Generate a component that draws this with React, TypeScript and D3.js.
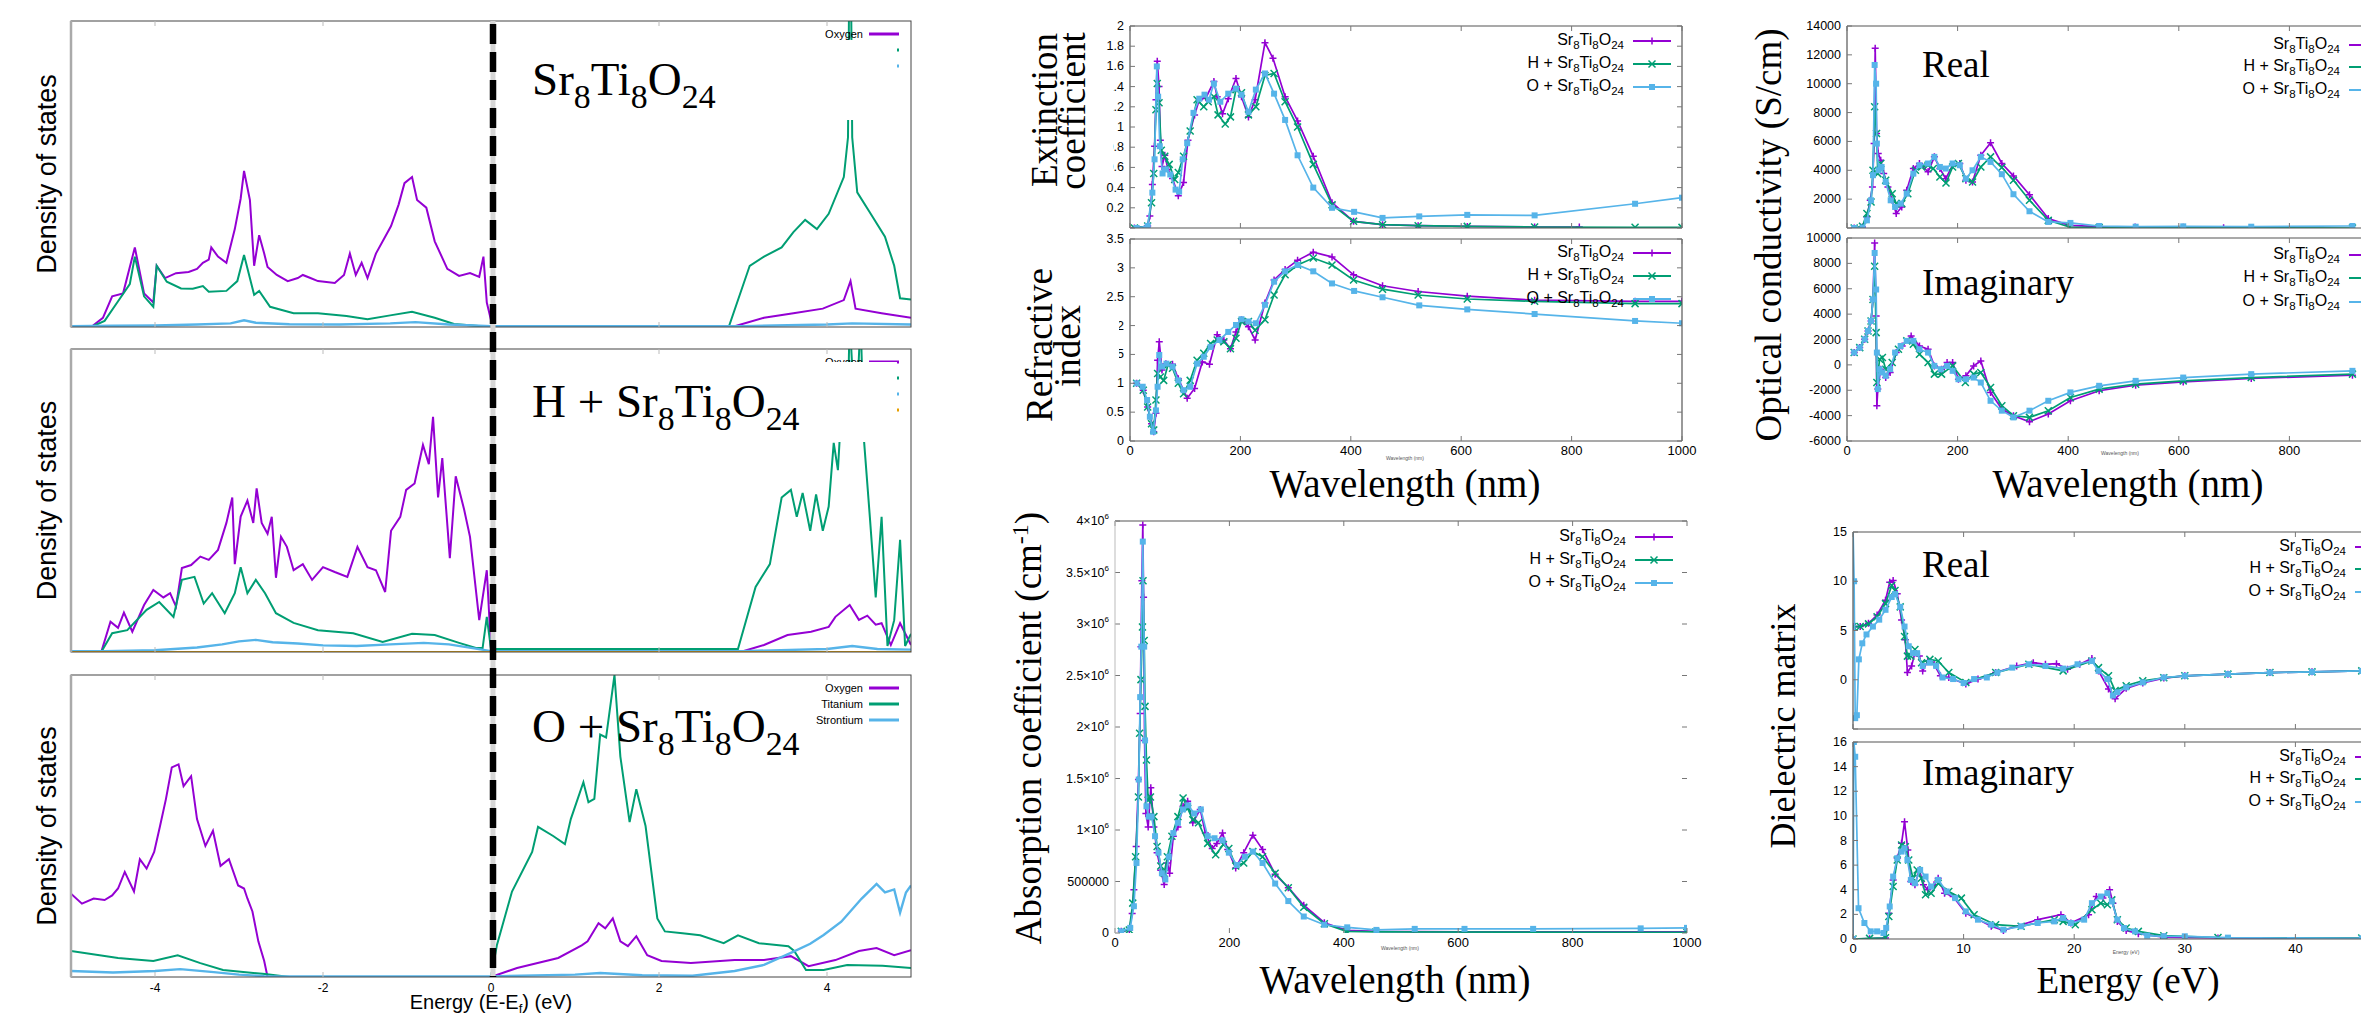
import React from "react";
import * as d3 from "d3";

type Pt = [number, number];

const PURPLE = "#9400d3";
const GREEN = "#009e73";
const SKY = "#56b4e9";
const ORANGE = "#e69f00";
const SANS = "'Liberation Sans', Arial, sans-serif";
const SERIF = "'Liberation Serif', 'Times New Roman', serif";

// ---------- density of states (arbitrary units: 0 = baseline, 100 = frame top)
const elements = ["Oxygen", "Titanium", "Strontium"];
const energyTicks = [-4, -2, 0, 2, 4];

const dosPureO: Pt[] = [[-5,0],[-4.76,0],[-4.62,3],[-4.51,10],[-4.38,11],[-4.24,26],[-4.13,11],[-4.02,8],[-3.98,20],[-3.88,16],[-3.75,17.6],[-3.6,18],[-3.5,19],[-3.43,21],[-3.36,22],[-3.33,26],[-3.25,23],[-3.15,21],[-3.05,32],[-2.98,42],[-2.94,51],[-2.87,41.5],[-2.82,20],[-2.76,30],[-2.7,24],[-2.66,19.6],[-2.55,17],[-2.42,15],[-2.3,16],[-2.24,17],[-2.15,16],[-2.06,15],[-1.86,14.4],[-1.75,17],[-1.68,24],[-1.61,17],[-1.54,21],[-1.47,16],[-1.37,24],[-1.19,33],[-1.1,40],[-1.03,47],[-0.94,49],[-0.88,41.5],[-0.77,39],[-0.67,28],[-0.52,19],[-0.38,16.7],[-0.25,17.6],[-0.14,16.4],[-0.09,23],[-0.05,8],[0.02,0],[2.87,0],[3.25,3],[3.6,4.5],[3.95,6],[4.2,8.8],[4.28,15],[4.34,6],[4.65,4.5],[5,3]];
const dosPureTi: Pt[] = [[-5,0],[-4.76,0],[-4.6,2],[-4.45,8],[-4.3,14],[-4.24,23],[-4.13,10],[-4.02,6.6],[-3.98,20],[-3.86,14.8],[-3.69,12.6],[-3.55,12.5],[-3.43,13.4],[-3.36,11.5],[-3.15,11.8],[-3.02,15],[-2.94,23.5],[-2.82,10.5],[-2.76,11.8],[-2.63,6.6],[-2.35,4.5],[-2.06,4.5],[-1.72,3.6],[-1.47,2.5],[-1.2,3.8],[-0.94,5],[-0.67,3],[-0.44,1],[0,0],[2.83,0],[3.08,20],[3.25,23],[3.46,26],[3.6,31],[3.74,35],[3.88,32],[4.02,37],[4.2,49],[4.25,62],[4.265,115],[4.285,115],[4.3,62],[4.36,44],[4.52,37],[4.69,29.5],[4.8,20],[4.87,9.4],[5,9]];
const dosPureSr: Pt[] = [[-5,0.3],[-4.5,0.4],[-4,0.5],[-3.5,0.8],[-3.1,1.2],[-2.94,2.2],[-2.8,1.4],[-2.4,0.9],[-1.8,0.8],[-1.2,1.2],[-0.9,1.6],[-0.5,0.8],[0,0.3],[3,0.3],[4,0.8],[4.3,1.2],[5,0.8]];

const dosHO: Pt[] = [[-5,0],[-4.64,0],[-4.53,10],[-4.44,8],[-4.37,13],[-4.27,6.7],[-4.13,15.5],[-4.02,20.5],[-3.9,18],[-3.82,19.4],[-3.75,15],[-3.68,27.7],[-3.57,28.7],[-3.46,31.5],[-3.36,30.4],[-3.25,33.7],[-3.15,42.6],[-3.08,51],[-3.05,29],[-2.98,44.7],[-2.9,50],[-2.83,42.6],[-2.79,54],[-2.73,42.6],[-2.66,39],[-2.61,44.6],[-2.56,24.5],[-2.5,38],[-2.43,34.7],[-2.35,27],[-2.24,29],[-2.13,23.8],[-2.0,28],[-1.86,26.4],[-1.71,24.8],[-1.59,34.7],[-1.47,28],[-1.37,27],[-1.26,19.8],[-1.19,40],[-1.08,44.6],[-1.01,53.5],[-0.91,55.6],[-0.81,68.3],[-0.74,62],[-0.69,77.6],[-0.63,51],[-0.58,64],[-0.49,31],[-0.42,58],[-0.32,47],[-0.25,38],[-0.14,10.5],[-0.05,27],[0,1],[2.97,0],[3.25,2.3],[3.53,5.6],[3.81,6.7],[4.02,8.3],[4.1,11.6],[4.27,15.5],[4.38,10.6],[4.48,12],[4.58,9],[4.65,9.5],[4.76,2.3],[4.87,9.5],[5,2.3]];
const dosHTi: Pt[] = [[-5,0],[-4.64,0],[-4.51,6.2],[-4.33,7.2],[-4.1,13.9],[-3.95,16.5],[-3.78,11.6],[-3.68,23.8],[-3.53,24.8],[-3.42,16],[-3.32,19.4],[-3.17,12.8],[-3.05,19.4],[-2.98,28],[-2.9,19.4],[-2.8,23.8],[-2.69,19.4],[-2.56,12.8],[-2.35,9.6],[-2.06,7.2],[-1.64,6.2],[-1.29,3.3],[-0.94,6],[-0.67,5.6],[-0.38,3],[-0.18,1.3],[-0.1,1.3],[-0.05,11.6],[0,1],[2.94,1],[3.15,21.5],[3.32,29],[3.46,51],[3.57,53.5],[3.64,44.6],[3.71,52.5],[3.8,40],[3.87,52],[3.95,40],[4.02,48],[4.08,69],[4.13,60],[4.18,84.6],[4.24,70],[4.27,110],[4.34,73],[4.4,110],[4.44,70],[4.51,44.6],[4.58,18],[4.65,44.6],[4.72,2],[4.8,10.5],[4.87,37],[4.93,2],[5,6]];
const dosHSr: Pt[] = [[-5,0.3],[-4.6,0.3],[-4,0.6],[-3.5,1.5],[-3.2,2.5],[-3.0,3.5],[-2.8,4],[-2.6,3.2],[-2.3,2.8],[-2,2.2],[-1.6,2],[-1.2,2.5],[-0.8,3],[-0.5,2.5],[-0.2,1.2],[0,0.3],[3,0.3],[4,1],[4.3,2],[4.6,1],[5,0.8]];
const dosHExtra: Pt[] = [[-5,0],[5,0]];

const dosOO: Pt[] = [[-5,27.6],[-4.87,24.3],[-4.73,26],[-4.6,25.5],[-4.51,27],[-4.44,29.3],[-4.36,34.8],[-4.25,28.3],[-4.18,39],[-4.1,35.9],[-4.01,41.4],[-3.94,50],[-3.87,58.9],[-3.8,69.4],[-3.72,70.4],[-3.66,63.2],[-3.57,66.5],[-3.5,52.3],[-3.4,43.4],[-3.31,48.4],[-3.22,36.8],[-3.12,39],[-3.01,30.3],[-2.94,29.3],[-2.9,26],[-2.84,21.7],[-2.77,11.8],[-2.7,5.3],[-2.66,0],[0,0],[0.31,3],[0.8,6.3],[1.08,10.5],[1.15,11.8],[1.28,17.8],[1.36,16.1],[1.45,19.4],[1.54,11.8],[1.63,10.2],[1.73,13.5],[1.86,7.2],[2.03,5.3],[2.38,4.6],[2.9,5.6],[3.25,5.6],[3.57,6.9],[3.78,3.6],[4.1,5.6],[4.38,8.6],[4.59,9.6],[4.8,7.2],[5,8.9]];
const dosOTi: Pt[] = [[-5,8.6],[-4.44,6.3],[-4.02,5.3],[-3.73,7.2],[-3.46,4.6],[-3.19,2.3],[-2.69,1],[-2.4,0],[0,0],[0.07,10.5],[0.25,28.3],[0.49,41.4],[0.56,49.7],[0.74,46.7],[0.88,44],[0.95,52.3],[1.1,64.5],[1.16,57.9],[1.23,59],[1.3,80.3],[1.37,79.3],[1.47,100],[1.54,73],[1.65,51.3],[1.73,62.2],[1.84,50],[1.98,19.4],[2.07,15.1],[2.28,14.5],[2.49,13.8],[2.77,11.2],[2.94,13.8],[3.19,11.2],[3.54,10.2],[3.61,8.6],[3.75,2.3],[3.96,2.3],[4.24,4],[4.66,3.7],[5,3]];
const dosOSr: Pt[] = [[-5,2],[-4.5,1.5],[-4,2],[-3.7,2.6],[-3.3,1.6],[-3,0.8],[-2.7,0.3],[0,0.2],[1,0.8],[1.3,1.3],[1.8,0.6],[2.4,0.4],[2.9,2],[3.25,4],[3.57,8],[3.8,11],[3.96,13.9],[4.17,18.3],[4.41,25.9],[4.59,30.8],[4.69,28],[4.8,29],[4.87,21.3],[4.94,28],[5,30.3]];

// ---------- optical spectra (x = wavelength in nm or energy in eV)
const prefixes = ["", "H + ", "O + "];
const wlTicks = [0, 200, 400, 600, 800, 1000];
const evTicks = [0, 10, 20, 30, 40, 50];

const extPure: Pt[] = [[8,0],[32,0.02],[36,0.12],[40.5,0.43],[44.5,0.81],[47,1.27],[49.4,1.65],[52.6,1.4],[55,0.87],[58,0.61],[63,0.72],[69,0.58],[77,0.49],[87.5,0.32],[97,0.45],[105,0.87],[117,1.12],[125.5,1.27],[137.6,1.29],[152,1.45],[158,1.3],[167.6,1.13],[178,1.28],[192,1.48],[202,1.3],[214.6,1.1],[226.7,1.27],[244.5,1.835],[259,1.68],[281,1.3],[303.6,1.06],[332,0.71],[366,0.25],[405,0.066],[457.5,0.033],[522,0.023],[611,0.016],[733,0.01],[814,0.01]];
const extH: Pt[] = [[8,0],[32,0.02],[39,0.25],[43,0.54],[47,1.17],[49.4,1.43],[52.6,1.24],[56.7,0.77],[63,0.71],[71,0.63],[81,0.48],[87.5,0.55],[97,0.71],[109,0.96],[121.5,1.27],[133.6,1.2],[141.7,1.25],[152,1.3],[159.5,1.12],[172.5,1.03],[182,1.1],[192,1.37],[202,1.34],[214.6,1.12],[228,1.2],[244.5,1.51],[261,1.53],[281,1.25],[303.6,1.0],[332,0.63],[366,0.23],[405,0.066],[457.5,0.033],[522,0.023],[611,0.016],[733,0.01],[915,0.007],[1000,0.006]];
const extO: Pt[] = [[12,0],[32,0.02],[40.5,0.35],[44.5,0.68],[48.6,1.6],[51,1.3],[54,0.81],[59,0.54],[65,0.58],[73,0.53],[82.6,0.38],[89,0.36],[95.5,0.68],[103.6,0.84],[115,1.14],[125.5,1.28],[135,1.32],[143,1.27],[152,1.43],[163.6,1.25],[178,1.33],[192,1.38],[202,1.32],[214.6,1.15],[228,1.37],[244.5,1.53],[261,1.33],[281,1.07],[303.6,0.72],[332,0.4],[366,0.2],[406,0.16],[457.5,0.1],[524,0.115],[611,0.13],[733,0.125],[915,0.24],[1000,0.3]];

const refPure: Pt[] = [[12,1.0],[24,0.88],[32,0.59],[39,0.3],[43,0.16],[47,0.48],[50,1.4],[53,1.72],[58,1.23],[65,1.34],[77,1.33],[87.5,1.08],[103.6,0.74],[117,0.91],[131,1.37],[144,1.33],[158,1.84],[170,1.75],[182,1.6],[192,1.89],[202,2.1],[214.6,1.98],[226.7,1.75],[244.5,2.39],[261,2.79],[281,2.97],[303.6,3.13],[332,3.27],[366,3.19],[405,2.88],[457.5,2.69],[522,2.59],[611,2.51],[733,2.44],[915,2.42],[1000,2.42]];
const refH: Pt[] = [[12,1.0],[24,0.88],[32,0.59],[39,0.3],[43,0.19],[47,0.71],[50,1.17],[55,1.11],[61,1.05],[69,1.32],[77,1.26],[87.5,1.0],[97,0.82],[109,1.05],[121.5,1.4],[133.6,1.52],[146,1.69],[158,1.75],[170,1.72],[182,1.6],[192,1.78],[202,2.07],[214.6,2.07],[226.7,1.92],[244.5,2.1],[261,2.53],[281,2.88],[303.6,3.05],[332,3.17],[366,3.05],[405,2.79],[457.5,2.63],[522,2.53],[611,2.46],[733,2.42],[915,2.38],[1000,2.38]];
const refO: Pt[] = [[12,1.0],[23,0.94],[31,0.71],[36,0.42],[42,0.16],[47,0.53],[50,0.94],[53,1.49],[58,1.29],[66,1.34],[77,1.29],[87.5,1.05],[97,0.88],[109,0.94],[121.5,1.34],[133.6,1.46],[146,1.63],[162,1.75],[178,1.89],[192,2.01],[202,2.11],[214.6,2.07],[228,2.04],[244.5,2.36],[261,2.76],[281,2.94],[303.6,3.05],[332,2.94],[366,2.73],[406,2.6],[457.5,2.49],[524,2.35],[611,2.28],[733,2.2],[915,2.08],[1000,2.04]];

// absorption coefficient, in units of 10^6 cm^-1
const absPure: Pt[] = [[11,0.016],[25,0.03],[30,0.19],[33,0.42],[37,0.84],[41,1.49],[44,2.13],[45.4,2.78],[47,3.42],[48.6,3.96],[50,3.26],[51.7,1.87],[54,1.16],[58,1.03],[62.6,1.41],[68,1.03],[73.6,0.78],[80,0.61],[86,0.47],[91.6,0.68],[95.5,0.58],[102,0.94],[110,1.03],[119,1.23],[127,1.28],[136,1.07],[149,1.2],[158,0.97],[170,0.82],[178,0.87],[188,0.97],[197,0.81],[211,0.63],[225,0.78],[241,0.95],[258,0.81],[280,0.57],[303,0.44],[330,0.27],[366,0.1],[405,0.026],[456,0.016],[522,0.013],[611,0.01],[730,0.01],[918,0.01],[1000,0.01]];
const absH: Pt[] = [[11,0.016],[25,0.03],[31,0.29],[36,0.74],[41,1.32],[43,1.94],[45.4,2.46],[48,2.97],[49,3.42],[51,2.84],[52.5,2.2],[55,1.68],[58,1.29],[62,1.32],[68,1.13],[73.6,0.84],[80,0.65],[86,0.58],[91.6,0.74],[99.5,0.94],[110,1.13],[119,1.31],[127,1.21],[136,1.1],[146,1.07],[162,0.87],[176,0.76],[189.5,0.86],[199,0.82],[211,0.65],[225,0.68],[241,0.79],[258,0.74],[280,0.58],[303,0.44],[330,0.25],[366,0.09],[405,0.016],[456,0.01],[1000,0.006]];
const absO: Pt[] = [[11,0.016],[26.6,0.05],[33,0.26],[37.6,0.68],[41.5,1.49],[44,2.29],[46,2.78],[48.6,3.8],[51,2.78],[52.5,1.87],[55,1.23],[59,1.13],[64,1.13],[70,0.94],[76,0.78],[82,0.58],[88,0.52],[94,0.74],[102,0.97],[110,1.07],[119,1.2],[128,1.24],[138.6,1.16],[150,1.2],[162,0.94],[174,0.92],[188,0.9],[199,0.78],[213,0.66],[227,0.74],[241,0.79],[258,0.68],[280,0.48],[303,0.31],[330,0.16],[366,0.08],[406,0.055],[457,0.03],[524,0.04],[611,0.04],[731,0.04],[919,0.045],[1000,0.05]];

const sigReP: Pt[] = [[13,0],[28,70],[36,760],[42,1920],[46,2850],[49,5850],[51,12450],[53.4,6550],[56.5,5160],[61,4700],[66.4,3770],[74,2850],[81.7,1920],[89,1000],[99,1460],[108,2610],[120,4120],[131,4470],[146.6,3890],[158,4930],[168,4120],[178.6,3420],[191,4350],[204,4470],[215,3310],[227,3190],[242,5040],[259.6,5900],[280,4470],[301,3610],[330,2310],[364,650],[402,185],[456,90],[521,70],[608,45],[681,25]];
const sigReH: Pt[] = [[13,0],[28,115],[36,1000],[43.5,1800],[47,4000],[50,8400],[53.4,6550],[55.7,3770],[61,4470],[70,3310],[81.7,2380],[89,1690],[99,1690],[110,2380],[123.7,4000],[135,4230],[146.6,4350],[156,4120],[168,3540],[179,3120],[191,4230],[201.5,4470],[215,3420],[227,3190],[242,4230],[259.6,4930],[280,4190],[301,3310],[330,1920],[364,530],[402,70],[456,25],[914,0]];
const sigReO: Pt[] = [[13,0],[28,25],[36,530],[43.5,1920],[47,3660],[50,11300],[52.7,10000],[54,5850],[57,4000],[62.6,4230],[70,3190],[79,1920],[87,1460],[97,1690],[108,2380],[120,3770],[131,4350],[146.6,4470],[158,4930],[168,4230],[178.6,4120],[191,4470],[204,4350],[215,3420],[227,4000],[242,4930],[259.6,4580],[280,3730],[301,2340],[330,1160],[364,420],[404,350],[456,140],[522,90],[608,115],[731,90],[914,140]];

const sigImP: Pt[] = [[13,970],[23,1360],[32,2020],[38,2670],[43.5,3460],[47,5160],[50,9600],[52.7,3850],[54,-3220],[55.7,-1910],[61,-340],[70,-1000],[78,-600],[89,970],[99.8,1490],[116,2280],[131,1490],[146.6,1230],[158,-80],[171,-340],[181,180],[191,180],[201.5,-1130],[215,-860],[229,-80],[242,310],[259.6,-2170],[280,-3480],[301,-4010],[330,-4480],[364,-3870],[404,-2830],[456,-2040],[522,-1600],[608,-1340],[731,-1070],[914,-810]];
const sigImH: Pt[] = [[13,970],[23,1360],[32,2020],[38,2670],[43.5,3460],[47,5160],[50,7780],[52.7,2540],[54,-1390],[59,450],[64,580],[70,-340],[81.7,180],[93,1230],[108,1890],[120,1620],[131,840],[146.6,180],[158,-730],[171,-730],[191,-80],[214,-1390],[229,-730],[242,-600],[259.6,-1780],[280,-3220],[301,-4010],[330,-4140],[364,-3610],[404,-2570],[456,-1910],[522,-1520],[608,-1260],[731,-1000],[914,-730]];
const sigImO: Pt[] = [[13,970],[23,1360],[32,2020],[38,2670],[43.5,3460],[47,5160],[50,8820],[52.7,5940],[54,970],[55.7,-1910],[59,-340],[64,-600],[70,-860],[78,-340],[87,970],[97,1490],[108,1890],[120,1890],[131,1230],[146.6,970],[158,-80],[169.5,-340],[181,-80],[191,-470],[201.5,-1130],[215,-1130],[229,-1000],[242,-1390],[259.6,-2830],[280,-3610],[301,-4140],[330,-3610],[364,-2830],[404,-2170],[456,-1650],[522,-1260],[608,-1000],[731,-730],[914,-470]];

const epsReP: Pt[] = [[0,5.4],[0.65,5.4],[1.4,5.73],[2.18,6.57],[2.94,8.07],[3.32,9.9],[3.63,10.07],[4.0,8.73],[4.39,6.07],[4.73,4.07],[4.92,0.73],[5.3,1.4],[5.6,2.73],[6,2.4],[6.3,0.9],[6.76,1.9],[7.33,1.57],[7.9,0.4],[8.66,0.23],[10.2,-0.43],[11.3,0.07],[12.9,0.73],[14.8,1.4],[16.3,1.73],[17.4,1.57],[18.4,1.63],[19.4,1.07],[20.5,1.57],[21.6,2.17],[22.2,0.9],[23.1,-0.93],[23.7,-1.93],[24.7,-0.87],[26.2,-0.33],[28.1,0.17],[30,0.4],[33.9,0.57],[37.7,0.73],[41.5,0.8],[46,0.9],[50,0.92]];
const epsReH: Pt[] = [[0,5.4],[0.65,5.4],[1.4,5.67],[2.18,6.4],[2.94,7.73],[3.5,9.57],[3.8,9.07],[4.27,7.4],[4.66,4.4],[4.92,2.4],[5.23,2.4],[5.6,3.07],[6.2,1.73],[6.95,2.07],[7.7,1.9],[8.66,0.73],[10.2,-0.27],[12.9,0.73],[15.9,1.57],[19,0.9],[21.6,1.9],[22.2,1.23],[23.1,0.4],[23.7,-1.1],[24.7,-0.6],[26.2,-0.1],[28.1,0.2],[30,0.4],[33.9,0.57],[37.7,0.73],[41.5,0.8],[46,0.9],[50,0.92]];
const epsReO: Pt[] = [[0,15.5],[0.1,10],[0.2,-3.9],[0.35,-3.6],[0.53,2.07],[0.84,3.7],[1.22,4.6],[1.8,5.4],[2.37,6.1],[2.94,7.1],[3.5,8.4],[3.8,8.7],[4.27,7.4],[4.66,5.4],[5.04,3.4],[5.42,2.7],[5.8,2.7],[6.3,1.4],[6.95,1.73],[7.52,1.4],[8.1,0.23],[9.05,0.07],[10,-0.33],[10.95,0.07],[12.1,0.23],[13.05,0.73],[14.4,1.23],[15.9,1.57],[17.4,1.4],[19,1.13],[20.3,1.57],[21.6,1.9],[22.2,0.9],[23,0.07],[23.5,-1.6],[23.9,-1.27],[24.7,-0.77],[26.2,-0.27],[28.1,0.23],[30,0.4],[33.9,0.57],[37.7,0.73],[41.5,0.8],[46,0.9],[50,0.92]];

const epsImP: Pt[] = [[0,0],[1.5,0.03],[2.94,0.08],[3.24,2.1],[3.63,4.8],[4.0,6.56],[4.39,7.77],[4.66,9.52],[4.96,7.23],[5.23,4.67],[5.6,4.4],[6,5.61],[6.37,4.4],[6.76,4.0],[7.33,4.4],[7.7,4.94],[8.28,3.72],[9.05,3.45],[10.2,2.1],[12.5,1.03],[13.6,0.7],[16.7,1.57],[18.8,1.97],[19.7,1.3],[21.3,1.97],[22.0,3.45],[22.6,3.32],[23.2,4.0],[23.5,2.91],[23.9,1.43],[24.7,0.7],[25.8,0.43],[28.1,0.16],[33,0.08],[46,0.05],[50,0.05]];
const epsImH: Pt[] = [[0,0],[1.5,0.05],[2.94,0.1],[3.24,1.83],[3.63,4.26],[4.0,6.42],[4.39,7.64],[4.73,7.5],[5.04,6.42],[5.42,4.94],[5.8,5.61],[6.18,4.94],[6.56,3.59],[7.06,3.72],[7.7,4.53],[8.66,3.86],[9.8,3.32],[10.95,1.97],[12.9,1.16],[15.2,1.03],[18.2,1.57],[19,1.43],[20.1,1.16],[21.6,2.37],[22.4,2.91],[23,2.78],[23.4,3.18],[23.9,1.57],[24.7,0.89],[25.8,0.62],[28.1,0.27],[33,0.12],[46,0.08],[50,0.08]];
const epsImO: Pt[] = [[0,0],[0.08,16],[0.2,14.8],[0.5,2.5],[1.03,1.3],[1.6,0.62],[2.18,0.62],[2.75,0.49],[3.0,0.9],[3.32,2.64],[3.63,5.07],[4.0,6.56],[4.39,7.1],[4.66,7.37],[4.92,6.42],[5.23,4.8],[5.6,4.53],[6.07,5.61],[6.56,5.07],[7.06,4.26],[7.7,4.8],[8.47,3.86],[9.24,3.32],[10.2,2.24],[11.3,1.57],[12.5,1.16],[13.6,0.76],[15.2,1.03],[16.7,1.3],[18.2,1.43],[19,1.7],[19.7,1.3],[20.9,1.57],[21.6,2.91],[22.4,3.45],[23,3.72],[23.4,3.05],[23.9,1.57],[24.5,0.89],[25.5,0.62],[26.6,0.27],[28.1,0.22],[30,0.22],[33.9,0.11],[46,0.05],[50,0.05]];

const extTicks = [0, 0.2, 0.4, 0.6, 0.8, 1, 1.2, 1.4, 1.6, 1.8, 2];
const refTicks = [0, 0.5, 1, 1.5, 2, 2.5, 3, 3.5];
const absTicks = [0, 0.5, 1, 1.5, 2, 2.5, 3, 3.5, 4];
const sigReTicks = [0, 2000, 4000, 6000, 8000, 10000, 12000, 14000];
const sigImTicks = [-6000, -4000, -2000, 0, 2000, 4000, 6000, 8000, 10000];
const epsReTicks = [-5, 0, 5, 10, 15];
const epsImTicks = [0, 2, 4, 6, 8, 10, 12, 14, 16];

type Series = { data: Pt[]; color: string; mark: string };
const trio = (a: Pt[], b: Pt[], c: Pt[]): Series[] => [
  { data: a, color: PURPLE, mark: "plus" },
  { data: b, color: GREEN, mark: "cross" },
  { data: c, color: SKY, mark: "square" },
];

function Formula({ prefix, x, y, size, anchor = "start", family }: any) {
  const s = size * 0.72;
  const d = size * 0.27;
  return (
    <text x={x} y={y} fontSize={size} textAnchor={anchor} fontFamily={family} fill="#000">
      {prefix}Sr<tspan dy={d} fontSize={s}>8</tspan>
      <tspan dy={-d}>Ti</tspan>
      <tspan dy={d} fontSize={s}>8</tspan>
      <tspan dy={-d}>O</tspan>
      <tspan dy={d} fontSize={s}>24</tspan>
    </text>
  );
}

function Mark({ kind, x, y, color }: { kind: string; x: number; y: number; color: string }) {
  const s = 3.5;
  if (kind === "plus")
    return <path d={`M${x - s},${y}H${x + s}M${x},${y - s}V${y + s}`} stroke={color} strokeWidth={1.5} />;
  if (kind === "cross")
    return <path d={`M${x - s},${y - s}L${x + s},${y + s}M${x - s},${y + s}L${x + s},${y - s}`} stroke={color} strokeWidth={1.5} />;
  return <rect x={x - 3} y={y - 3} width={6} height={6} fill={color} />;
}

function DosPanel({ id, top, bottom, labelY, prefix, lines, legendCount, cover, xLabels }: any) {
  const x = d3.scaleLinear().domain([-5, 5]).range([71, 911]);
  const y = d3.scaleLinear().domain([0, 100]).range([bottom, top]);
  const line = d3.line<Pt>().x((d) => x(d[0])).y((d) => y(d[1]));
  const colors = [PURPLE, GREEN, SKY, ORANGE];
  return (
    <g>
      <defs>
        <clipPath id={id}>
          <rect x={71} y={top} width={840} height={bottom - top} />
        </clipPath>
      </defs>
      <g clipPath={`url(#${id})`}>
        {lines.map((d: Pt[], i: number) => (
          <path key={i} d={line(d) || ""} fill="none" stroke={colors[i]} strokeWidth={i === 2 ? 2.4 : 2} />
        ))}
      </g>
      <rect x={71} y={top} width={840} height={bottom - top} fill="none" stroke="#444" strokeWidth={1} />
      <line x1={71} x2={71} y1={top} y2={bottom} stroke="#aaa" strokeWidth={2.5} />
      {energyTicks.map((t) => (
        <g key={t} stroke="#bbb">
          <line x1={x(t)} x2={x(t)} y1={top} y2={top + 5} />
          <line x1={x(t)} x2={x(t)} y1={bottom} y2={bottom - 5} />
        </g>
      ))}
      {Array.from({ length: legendCount }, (_, i) => (
        <g key={i}>
          <text x={863} y={top + 13 + i * 16} fontSize={11} fontFamily={SANS} textAnchor="end" dominantBaseline="central">
            {i < 3 ? elements[i] : ""}
          </text>
          <line x1={869} x2={899} y1={top + 13 + i * 16} y2={top + 13 + i * 16} stroke={colors[i]} strokeWidth={3} />
        </g>
      ))}
      {cover && <rect x={815} y={cover[0]} width={82} height={cover[1] - cover[0]} fill="#fff" />}
      <Formula prefix={prefix} x={532} y={labelY} size={47} family={SERIF} />
      <text
        transform={`translate(56,${(top + bottom) / 2}) rotate(-90)`}
        fontSize={27}
        fontFamily={SANS}
        textAnchor="middle"
      >
        Density of states
      </text>
      {xLabels &&
        energyTicks.map((t) => (
          <text key={t} x={x(t)} y={bottom + 15} fontSize={12} fontFamily={SANS} textAnchor="middle">
            {t}
          </text>
        ))}
    </g>
  );
}

function OptPanel(p: any) {
  const { id, x0, x1, y0, y1, xDomain, yDomain, xTicks, yTicks, yLabels, fmt, xLabels, series, legendX, legendYs, sides = "trbl" } = p;
  const x = d3.scaleLinear().domain(xDomain).range([x0, x1]);
  const y = d3.scaleLinear().domain(yDomain).range([y1, y0]);
  const line = d3.line<Pt>().x((d) => x(d[0])).y((d) => y(d[1]));
  return (
    <g>
      <defs>
        <clipPath id={id}>
          <rect x={x0} y={y0} width={x1 - x0} height={y1 - y0} />
        </clipPath>
      </defs>
      <g clipPath={`url(#${id})`}>
        {series.map((s: Series, i: number) => (
          <g key={i}>
            <path d={line(s.data) || ""} fill="none" stroke={s.color} strokeWidth={1.7} />
            {s.data.map((d, j) => (
              <Mark key={j} kind={s.mark} x={x(d[0])} y={y(d[1])} color={s.color} />
            ))}
          </g>
        ))}
      </g>
      <g stroke="#555" strokeWidth={1.2}>
        {sides.includes("t") && <line x1={x0} x2={x1} y1={y0} y2={y0} />}
        {sides.includes("b") && <line x1={x0} x2={x1} y1={y1} y2={y1} />}
        {sides.includes("l") && <line x1={x0} x2={x0} y1={y0} y2={y1} />}
        {sides.includes("r") && <line x1={x1} x2={x1} y1={y0} y2={y1} />}
      </g>
      <g stroke="#777" strokeWidth={1}>
        {xTicks.map((t: number) => (
          <g key={t}>
            <line x1={x(t)} x2={x(t)} y1={y1} y2={y1 - 5} />
            <line x1={x(t)} x2={x(t)} y1={y0} y2={y0 + 5} />
          </g>
        ))}
        {yTicks.map((t: number) => (
          <g key={t}>
            <line x1={x0} x2={x0 + 5} y1={y(t)} y2={y(t)} />
            <line x1={x1} x2={x1 - 5} y1={y(t)} y2={y(t)} />
          </g>
        ))}
      </g>
      {yLabels.map((t: number) => (
        <text key={t} x={x0 - 6} y={y(t)} fontSize={12.5} fontFamily={SANS} textAnchor="end" dominantBaseline="central">
          {fmt(t)}
        </text>
      ))}
      {xLabels &&
        xTicks.map((t: number) => (
          <text key={t} x={x(t)} y={y1 + 14} fontSize={13} fontFamily={SANS} textAnchor="middle">
            {t}
          </text>
        ))}
      {series.map((s: Series, i: number) => (
        <g key={i}>
          <Formula prefix={prefixes[i]} x={legendX} y={legendYs[i] + 4} size={16} anchor="end" family={SANS} />
          <line x1={legendX + 9} x2={legendX + 47} y1={legendYs[i]} y2={legendYs[i]} stroke={s.color} strokeWidth={2} />
          <Mark kind={s.mark} x={legendX + 28} y={legendYs[i]} color={s.color} />
        </g>
      ))}
    </g>
  );
}

const num = (v: number) => String(+v.toFixed(1));
const sci = (v: number) =>
  v === 0 ? "0" : v === 0.5 ? "500000" : (
    <>
      {`${v}×10`}
      <tspan dy={-5} fontSize={8}>6</tspan>
    </>
  );

function RotTitle({ x, y, children, size = 37 }: any) {
  return (
    <text transform={`translate(${x},${y}) rotate(-90)`} fontSize={size} fontFamily={SERIF} textAnchor="middle">
      {children}
    </text>
  );
}

export default function App() {
  return (
    <svg width={2361} height={1013} style={{ position: "absolute", left: 0, top: 0, background: "#fff" }}>
      <rect width={2361} height={1013} fill="#fff" />

      {/* density of states */}
      <DosPanel id="d1" top={21} bottom={327} labelY={95} prefix="" lines={[dosPureO, dosPureTi, dosPureSr]} legendCount={3} cover={[40, 120]} />
      <DosPanel id="d2" top={349} bottom={652} labelY={417} prefix="H + " lines={[dosHO, dosHTi, dosHSr, dosHExtra]} legendCount={4} cover={[362, 442]} />
      <DosPanel id="d3" top={675} bottom={977} labelY={742} prefix="O + " lines={[dosOO, dosOTi, dosOSr]} legendCount={3} xLabels />
      <line x1={493} x2={493} y1={21} y2={977} stroke="#d5d5d5" strokeWidth={5} />
      <line x1={493} x2={493} y1={24} y2={977} stroke="#000" strokeWidth={6.5} strokeDasharray="20 8" />
      <text x={491} y={1009} fontSize={20} fontFamily={SANS} textAnchor="middle">
        Energy (E-E<tspan dy={4} fontSize={13}>f</tspan><tspan dy={-4}>) (eV)</tspan>
      </text>

      {/* extinction coefficient & refractive index */}
      <OptPanel id="ext" x0={1130} x1={1682} y0={26} y1={228} xDomain={[0, 1000]} yDomain={[0, 2]} xTicks={wlTicks}
        yTicks={extTicks} yLabels={extTicks.slice(1)} fmt={num} series={trio(extPure, extH, extO)} legendX={1624} legendYs={[41, 64, 87]} />
      <OptPanel id="ref" x0={1130} x1={1682} y0={239} y1={441} xDomain={[0, 1000]} yDomain={[0, 3.5]} xTicks={wlTicks}
        yTicks={refTicks} yLabels={refTicks} fmt={num} xLabels series={trio(refPure, refH, refO)} legendX={1624} legendYs={[253, 276, 299]} />
      <rect x={1018} y={76} width={95} height={102} fill="#fff" />
      <rect x={1018} y={312} width={101} height={58} fill="#fff" />
      <g fontFamily={SERIF} fontSize={37}>
        <text transform="translate(1057,110) rotate(-90)" textAnchor="middle">Extinction</text>
        <text transform="translate(1085,111) rotate(-90)" textAnchor="middle">coefficient</text>
        <text transform="translate(1052,345) rotate(-90)" textAnchor="middle">Refractive</text>
        <text transform="translate(1080,346) rotate(-90)" textAnchor="middle">index</text>
      </g>
      <text x={1405} y={460} fontSize={5} fontFamily={SANS} textAnchor="middle" fill="#555">Wavelength (nm)</text>
      <text x={1405} y={497} fontSize={39} fontFamily={SERIF} textAnchor="middle">Wavelength (nm)</text>

      {/* absorption coefficient */}
      <OptPanel id="abs" x0={1115} x1={1687} y0={521} y1={933} xDomain={[0, 1000]} yDomain={[0, 4]} xTicks={wlTicks}
        yTicks={absTicks} yLabels={absTicks} fmt={sci} xLabels sides="t" series={trio(absPure, absH, absO)} legendX={1626} legendYs={[537, 560, 583]} />
      <line x1={1115} x2={1115} y1={521} y2={933} stroke="#bbb" strokeWidth={1} />
      <RotTitle x={1041} y={728}>
        Absorption coefficient (cm<tspan dy={-13} fontSize={24}>-1</tspan><tspan dy={13}>)</tspan>
      </RotTitle>
      <text x={1400} y={950} fontSize={5} fontFamily={SANS} textAnchor="middle" fill="#555">Wavelength (nm)</text>
      <text x={1395} y={993} fontSize={39} fontFamily={SERIF} textAnchor="middle">Wavelength (nm)</text>

      {/* optical conductivity */}
      <OptPanel id="sre" x0={1847} x1={2400} y0={26} y1={228} xDomain={[0, 1000]} yDomain={[0, 14000]} xTicks={wlTicks}
        yTicks={sigReTicks} yLabels={sigReTicks.slice(1)} fmt={(v: number) => String(v)} series={trio(sigReP, sigReH, sigReO)} legendX={2340} legendYs={[45, 67, 90]} />
      <OptPanel id="sim" x0={1847} x1={2400} y0={238} y1={441} xDomain={[0, 1000]} yDomain={[-6000, 10000]} xTicks={wlTicks}
        yTicks={sigImTicks} yLabels={sigImTicks} fmt={(v: number) => String(v)} xLabels series={trio(sigImP, sigImH, sigImO)} legendX={2340} legendYs={[255, 278, 302]} />
      <text x={1922} y={77} fontSize={37} fontFamily={SERIF}>Real</text>
      <text x={1922} y={295} fontSize={37} fontFamily={SERIF}>Imaginary</text>
      <RotTitle x={1781} y={235}>Optical conductivity (S/cm)</RotTitle>
      <text x={2120} y={455} fontSize={5} fontFamily={SANS} textAnchor="middle" fill="#555">Wavelength (nm)</text>
      <text x={2128} y={497} fontSize={39} fontFamily={SERIF} textAnchor="middle">Wavelength (nm)</text>

      {/* dielectric function */}
      <OptPanel id="ere" x0={1853} x1={2406} y0={532} y1={729} xDomain={[0, 50]} yDomain={[-5, 15]} xTicks={evTicks}
        yTicks={epsReTicks} yLabels={epsReTicks.slice(1)} fmt={(v: number) => String(v)} series={trio(epsReP, epsReH, epsReO)} legendX={2346} legendYs={[547, 569, 592]} />
      <OptPanel id="eim" x0={1853} x1={2406} y0={742} y1={939} xDomain={[0, 50]} yDomain={[0, 16]} xTicks={evTicks}
        yTicks={epsImTicks} yLabels={epsImTicks} fmt={(v: number) => String(v)} xLabels series={trio(epsImP, epsImH, epsImO)} legendX={2346} legendYs={[757, 779, 802]} />
      <text x={1922} y={577} fontSize={37} fontFamily={SERIF}>Real</text>
      <text x={1922} y={785} fontSize={37} fontFamily={SERIF}>Imaginary</text>
      <RotTitle x={1795} y={726} size={36}>Dielectric matrix</RotTitle>
      <text x={2126} y={954} fontSize={5} fontFamily={SANS} textAnchor="middle" fill="#555">Energy (eV)</text>
      <text x={2128} y={993} fontSize={37} fontFamily={SERIF} textAnchor="middle">Energy (eV)</text>
    </svg>
  );
}
